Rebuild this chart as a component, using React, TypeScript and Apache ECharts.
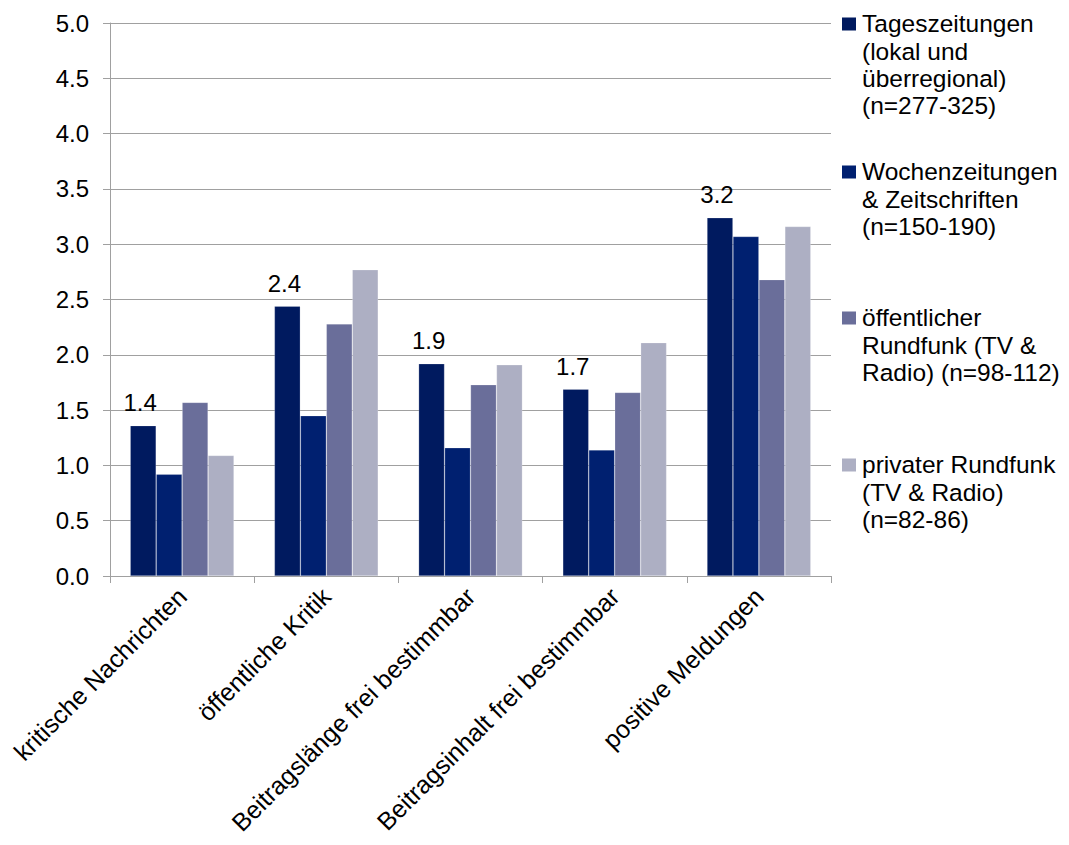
import React, { useEffect, useRef } from "react";
import * as echarts from "echarts";

// Categories on the x axis
const categories = [
  "kritische Nachrichten",
  "öffentliche Kritik",
  "Beitragslänge frei bestimmbar",
  "Beitragsinhalt frei bestimmbar",
  "positive Meldungen",
];

// Mean values per media type
const tageszeitungen = [1.36, 2.44, 1.92, 1.69, 3.24];
const wochenzeitungen = [0.92, 1.45, 1.16, 1.14, 3.07];
const oeffentlicherRundfunk = [1.57, 2.28, 1.73, 1.66, 2.68];
const privaterRundfunk = [1.09, 2.77, 1.91, 2.11, 3.16];

// Legend texts, one entry per line
const legendLines = [
  ["Tageszeitungen", "(lokal und", "überregional)", "(n=277-325)"],
  ["Wochenzeitungen", "& Zeitschriften", "(n=150-190)"],
  ["öffentlicher", "Rundfunk (TV &", "Radio) (n=98-112)"],
  ["privater Rundfunk", "(TV & Radio)", "(n=82-86)"],
];

const colors = ["#001a5f", "#002070", "#6a6e9a", "#adafc3"];
const seriesValues = [tageszeitungen, wochenzeitungen, oeffentlicherRundfunk, privaterRundfunk];

const FONT = "'Liberation Sans', Arial, sans-serif";
const FS_TEXT = 25;
const FS_LEGEND = 24.5;
const FS_NUM = 24;
const LH = 27.3;
const ICON = 13;
// vertical centre of the first text line of each legend entry
const legendFirstLine = [24, 172, 318, 465];

// Legend marker: a square sitting on the first text line of a tall item box
function markerPath(lines: number): string {
  const h = lines * LH;
  const y0 = (LH - ICON) / 2;
  return (
    `path://M0,0L0.01,0` +
    `M0,${y0}H${ICON + 1}V${y0 + ICON}H0Z` +
    `M0,${h}L0.01,${h}`
  );
}

export default function App() {
  const ref = useRef<HTMLDivElement>(null);

  useEffect(() => {
    if (!ref.current) return;
    const chart = echarts.init(ref.current, null, { renderer: "svg" });
    const names = legendLines.map((l) => l.join(" "));

    const legends = legendLines.map((lines, i) => {
      const n = lines.length;
      return {
        show: true,
        orient: "vertical",
        left: 842,
        top: legendFirstLine[i] - LH / 2,
        padding: 0,
        itemGap: 0,
        itemWidth: ICON + 1,
        itemHeight: n * LH,
        icon: markerPath(n),
        itemStyle: { borderWidth: 0 },
        selectedMode: false,
        data: [names[i]],
        formatter: () => lines.join("\n"),
        textStyle: {
          fontFamily: FONT,
          fontSize: FS_LEGEND,
          lineHeight: LH,
          color: "#000",
          padding: [0, 0, 0, 1],
        },
      };
    });

    chart.setOption({
      animation: false,
      backgroundColor: "#fff",
      textStyle: { fontFamily: FONT },
      legend: legends,
      grid: { left: 110, right: 238, top: 23, bottom: 269, containLabel: false },
      xAxis: {
        type: "category",
        data: categories,
        axisLine: { lineStyle: { color: "#a0a0a0", width: 1 } },
        axisTick: { show: true, length: 7, lineStyle: { color: "#a0a0a0" } },
        axisLabel: {
          interval: 0,
          rotate: 45,
          margin: 16,
          fontFamily: FONT,
          fontSize: FS_TEXT,
          color: "#000",
        },
      },
      yAxis: {
        type: "value",
        min: 0,
        max: 5,
        interval: 0.5,
        axisLine: { show: true, lineStyle: { color: "#a0a0a0", width: 1 } },
        axisTick: { show: true, length: 7, lineStyle: { color: "#a0a0a0" } },
        splitLine: { show: true, lineStyle: { color: "#a0a0a0", width: 1 } },
        axisLabel: {
          margin: 21,
          fontFamily: FONT,
          fontSize: FS_NUM,
          color: "#000",
          formatter: (v: number) => v.toFixed(1),
        },
      },
      series: seriesValues.map((vals, i) => ({
        type: "bar",
        name: names[i],
        data: vals,
        barGap: 0,
        barCategoryGap: "28%",
        itemStyle: { color: colors[i], borderColor: "rgba(255,255,255,0.35)", borderWidth: 0.6 },
        label:
          i === 0
            ? {
                show: true,
                position: "top",
                distance: 11,
                offset: [-3, 0],
                fontFamily: FONT,
                fontSize: FS_NUM,
                color: "#000",
                formatter: (p: any) => Number(p.value).toFixed(1),
              }
            : { show: false },
      })),
    });

    return () => chart.dispose();
  }, []);

  return <div ref={ref} style={{ width: 1069, height: 845, margin: -8 }} />;
}
